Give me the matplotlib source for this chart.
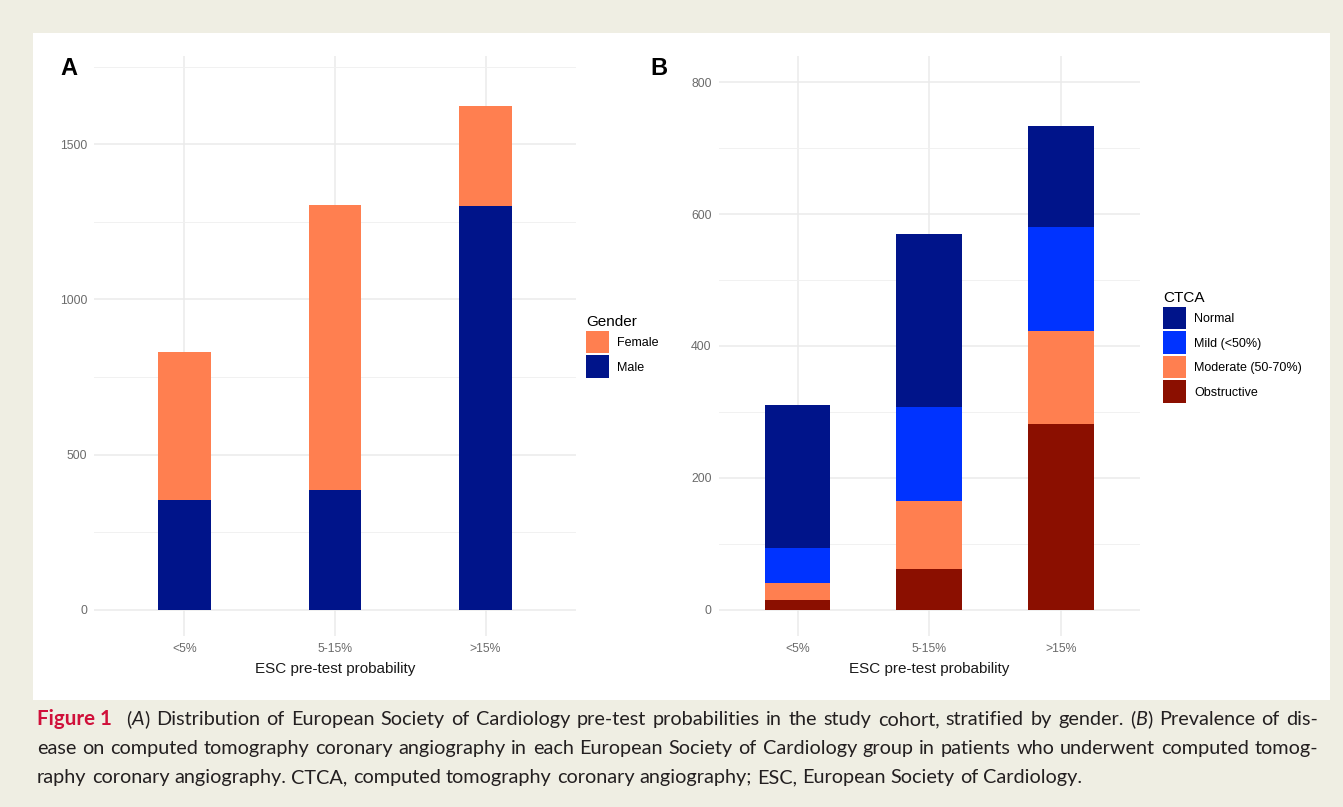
import matplotlib
matplotlib.use('Agg')
import matplotlib.pyplot as plt
from matplotlib.patches import Rectangle

# ---- data -------------------------------------------------------------
esc_groups = ['<5%', '5-15%', '>15%']

# panel A: gender counts per ESC group
male = [352, 387, 1300]
female = [480, 916, 323]

# panel B: CTCA findings per ESC group (stacked bottom -> top)
obstructive = [14, 61, 282]
moderate = [27, 104, 141]
mild = [53, 142, 158]
normal = [217, 263, 153]

caption_lines = [
    "(_A_) Distribution of European Society of Cardiology pre-test probabilities in the study cohort, stratified by gender. (_B_) Prevalence of dis-",
    "ease on computed tomography coronary angiography in each European Society of Cardiology group in patients who underwent computed tomog-",
    "raphy coronary angiography. CTCA, computed tomography coronary angiography; ESC, European Society of Cardiology.",
]

# ---- style ------------------------------------------------------------
NAVY = '#00148a'
BLUE = '#0033ff'
CORAL = '#ff7f50'
DARKRED = '#8b0f00'
GRID = '#ebebeb'
TICK = '#6b6b6b'

plt.rcParams['font.family'] = ['Liberation Sans', 'DejaVu Sans']

W, H = 1343, 807
fig = plt.figure(figsize=(W / 100, H / 100), dpi=100, facecolor='#efeee3')
fig.add_artist(Rectangle((33 / W, 1 - 700 / H), 1297 / W, 667 / H,
                         transform=fig.transFigure, facecolor='white',
                         edgecolor='none', zorder=0))


def px_axes(x0, x1, top, bottom):
    return fig.add_axes([x0 / W, 1 - bottom / H, (x1 - x0) / W, (bottom - top) / H])


def style(ax, ylim, major, minor):
    ax.set_facecolor('white')
    ax.set_xlim(-0.6, 2.6)
    ax.set_ylim(*ylim)
    for s in ax.spines.values():
        s.set_visible(False)
    ax.set_xticks(range(len(esc_groups)), esc_groups)
    ax.set_yticks(major)
    ax.set_yticks(minor, minor=True)
    ax.grid(which='major', color=GRID, lw=1.1)
    ax.grid(which='minor', axis='y', color='#f1f1f1', lw=0.7)
    ax.set_axisbelow(True)
    ax.tick_params(which='both', length=0)
    ax.tick_params(axis='x', labelsize=8.8, labelcolor=TICK, pad=5)
    ax.tick_params(axis='y', labelsize=8.8, labelcolor=TICK, pad=5)
    ax.set_xlabel('ESC pre-test probability', fontsize=11, color='#1a1a1a', labelpad=5)


def add_legend(ax, handles, labels, title, left, top):
    ax.legend(handles, labels, title=title, loc='upper left',
              bbox_to_anchor=(left / W, 1 - top / H), bbox_transform=fig.transFigure,
              frameon=False, fontsize=9, title_fontsize=11, alignment='left',
              handlelength=1.8, handleheight=2.39, labelspacing=0.16,
              handletextpad=0.7, borderpad=0, borderaxespad=0)


x = list(range(len(esc_groups)))

# ---- panel A ----------------------------------------------------------
axA = px_axes(94, 576, 56, 636)
style(axA, (-85, 1785), [0, 500, 1000, 1500], [250, 750, 1250, 1750])
bm = axA.bar(x, male, width=0.35, color=NAVY)
bf = axA.bar(x, female, width=0.35, bottom=male, color=CORAL)
add_legend(axA, [bf, bm], ['Female', 'Male'], 'Gender', 586, 315)

# ---- panel B ----------------------------------------------------------
axB = px_axes(718.5, 1140, 56, 636)
style(axB, (-40, 840), [0, 200, 400, 600, 800], [100, 300, 500, 700])
b0 = [0, 0, 0]
b1 = [a + b for a, b in zip(b0, obstructive)]
b2 = [a + b for a, b in zip(b1, moderate)]
b3 = [a + b for a, b in zip(b2, mild)]
h_obs = axB.bar(x, obstructive, width=0.5, bottom=b0, color=DARKRED)
h_mod = axB.bar(x, moderate, width=0.5, bottom=b1, color=CORAL)
h_mild = axB.bar(x, mild, width=0.5, bottom=b2, color=BLUE)
h_norm = axB.bar(x, normal, width=0.5, bottom=b3, color=NAVY)
add_legend(axB, [h_norm, h_mild, h_mod, h_obs],
           ['Normal', 'Mild (<50%)', 'Moderate (50-70%)', 'Obstructive'],
           'CTCA', 1163, 291)

# panel letters
fig.text(60 / W, 1 - 75 / H, 'A', fontsize=17, fontweight='bold', va='baseline')
fig.text(650 / W, 1 - 75 / H, 'B', fontsize=17, fontweight='bold', va='baseline')

# ---- caption (word by word, justified) ---------------------------------
CAP = 14.3
base = dict(family='Lato', fontsize=CAP, color='#231f20')
ital = dict(base, style='italic')
figlab = dict(family='Lato', fontsize=CAP + 0.5, weight='bold', color='#d0103a')
renderer = fig.canvas.get_renderer()
scratch = []


def make(s, props):
    t = fig.text(0, 0, s, va='baseline', ha='left', **props)
    return t, t.get_window_extent(renderer).width


def layout(words, y, x0, x1, justify, lead=None):
    items = []
    if lead is not None:
        t, w = make(lead, figlab)
        items.append(([(t, w)], w + 8))
    for word in words:
        pieces = []
        for i, p in enumerate(word.split('_')):
            if p:
                pieces.append(make(p, ital if i % 2 else base))
        items.append((pieces, sum(w for _, w in pieces)))
    total = sum(w for _, w in items)
    if justify:
        gap = (x1 - x0 - total) / (len(items) - 1)
    else:
        t1, w1 = make('a a', base)
        t2, w2 = make('aa', base)
        scratch.extend([t1, t2])
        gap = w1 - w2
    cx = x0
    for pieces, w in items:
        px = cx
        for t, pw in pieces:
            t.set_position((px / W, 1 - y / H))
            px += pw
        cx += w + gap


layout(caption_lines[0].split(' '), 725, 37, 1318, True, lead='Figure 1')
layout(caption_lines[1].split(' '), 754, 37, 1318, True)
layout(caption_lines[2].split(' '), 783, 37, 1318, False)
for t in scratch:
    t.remove()

fig.savefig('out.png', dpi=100, facecolor=fig.get_facecolor())
